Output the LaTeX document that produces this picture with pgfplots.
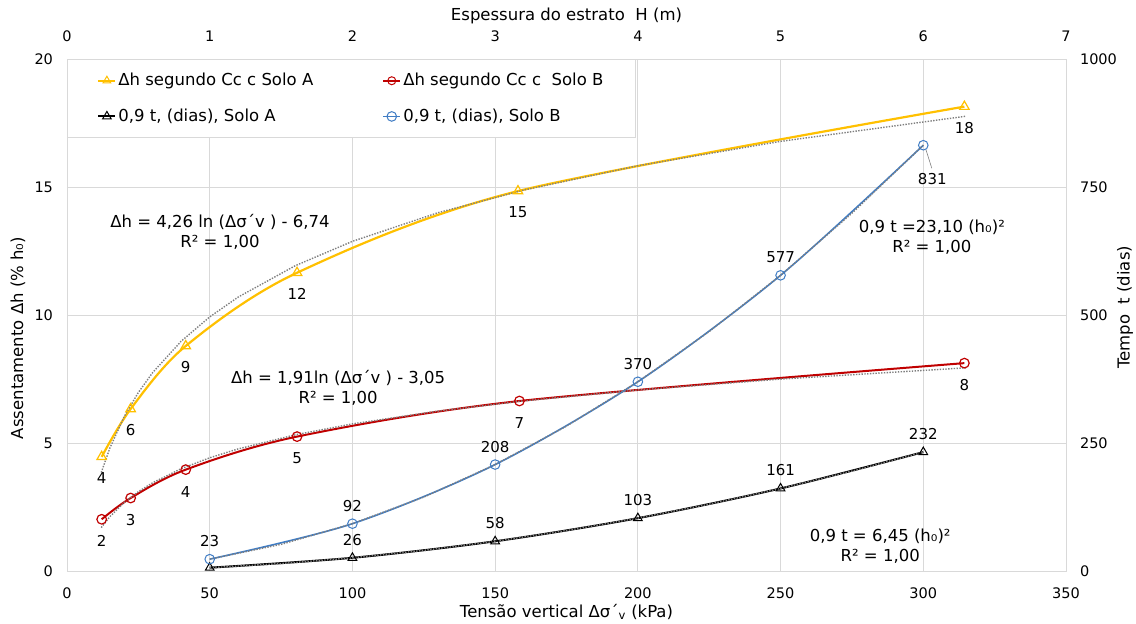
\documentclass[border=0pt]{standalone}
\usepackage{pgfplots}
\pgfplotsset{compat=1.18}
\usepackage{fontspec}
\setmainfont{DejaVu Sans}
\definecolor{cyel}{HTML}{FFC000}
\definecolor{cred}{HTML}{C00000}
\definecolor{cblue}{HTML}{3F7CC4}
\definecolor{cgrid}{HTML}{D9D9D9}
\definecolor{ctrend}{HTML}{7F7F7F}
\newcommand{\fs}{\fontsize{14.5bp}{17bp}\selectfont}
\newcommand{\fl}{\fontsize{15bp}{18bp}\selectfont}
\newcommand{\fb}{\fontsize{16.5bp}{20bp}\selectfont}
\newcommand{\fa}{\fontsize{16.5bp}{20bp}\selectfont}
\pgfplotsset{
  trend/.style={color=ctrend, line width=1.4bp, dash pattern=on 1.4bp off 1.4bp, forget plot, no marks},
  base/.style={scale only axis, width=999bp, height=512bp, at={(67bp,53bp)}, anchor=south west,
    axis line style={draw=cgrid, line width=0.8bp}, major tick length=0pt,
    /pgf/number format/assume math mode=true, /pgf/number format/1000 sep={},
    tick label style={font=\fs}, label style={font=\fb}, clip=false},
}
\begin{document}
\fs
\begin{tikzpicture}
\useasboundingbox (0,0) rectangle (1136bp,624bp);
% ---------------- primary axis ----------------
\begin{axis}[base,
  xmin=0, xmax=350, ymin=0, ymax=20,
  xtick={0,50,...,350}, ytick={0,5,10,15,20},
  grid=major, grid style={draw=cgrid, line width=0.8bp},
  xticklabel style={yshift=-12bp}, yticklabel style={xshift=-9bp},
  xlabel={Tensão vertical Δσ´\textsubscript{v} (kPa)},
  ylabel={Assentamento Δh (\% h₀)},
  xlabel style={at={(axis description cs:0.5,-0.080)}, anchor=center},
  ylabel style={at={(axis description cs:-0.049,0.455)}, anchor=center},
]
\addplot[cyel, line width=2.2bp, smooth, mark=triangle, mark size=5.5bp, mark options={solid, line width=1.2bp},
  nodes near coords, point meta=explicit symbolic,
  every node near coord/.append style={font=\fl, text=black, anchor=center, yshift=-21bp}]
  coordinates {(12.15,4.46)[4] (22.3,6.33)[6] (41.6,8.79)[9] (80.6,11.65)[12] (158,14.84)[15] (314.4,18.14)[18]};
\addplot[cred, line width=2bp, smooth, mark=o, mark size=4.8bp, mark options={solid, line width=1.2bp},
  nodes near coords, point meta=explicit symbolic,
  every node near coord/.append style={font=\fl, text=black, anchor=center, yshift=-22bp}]
  coordinates {(12.15,2.02)[2] (22.3,2.85)[3] (41.6,3.96)[4] (80.6,5.25)[5] (158.5,6.64)[7] (314.4,8.12)[8]};
\addplot[trend] coordinates {(12,3.846) (15,4.797) (20,6.022) (25,6.973) (30,7.749) (40,8.975) (50,9.925) (60,10.702) (80,11.927) (100,12.878) (130,13.996) (160,14.880) (200,15.831) (250,16.782) (315,17.766)};
\addplot[trend] coordinates {(12,1.696) (15,2.122) (20,2.672) (25,3.098) (30,3.446) (40,3.996) (50,4.422) (60,4.770) (80,5.320) (100,5.746) (130,6.247) (160,6.644) (200,7.070) (250,7.496) (315,7.937)};
\node[align=center, font=\fa] at (axis cs:53.6,13.24) {Δh = 4,26 ln (Δσ´v ) - 6,74\\R² = 1,00};
\node[align=center, font=\fa] at (axis cs:95,7.17) {Δh = 1,91ln (Δσ´v ) - 3,05\\R² = 1,00};
\node[align=center, font=\fa] at (axis cs:303,13.03) {0,9 t =23,10 (h₀)²\\R² = 1,00};
\node[align=center, font=\fa] at (axis cs:284.9,0.965) {0,9 t = 6,45 (h₀)²\\R² = 1,00};
\end{axis}
% ---------------- secondary axis ----------------
\begin{axis}[base,
  xmin=0, xmax=7, ymin=0, ymax=1000,
  axis x line*=top, axis y line*=right,
  xtick={0,1,...,7}, ytick={0,250,500,750,1000},
  xticklabel style={yshift=12bp}, yticklabel style={xshift=9bp},
  xlabel={Espessura do estrato~ H (m)},
  ylabel={Tempo~ t (dias)},
  xlabel style={at={(axis description cs:0.5,1.084)}, anchor=center},
  ylabel style={at={(axis description cs:1.059,0.515)}, anchor=center},
  legend columns=2,
  legend cell align=left,
  legend style={at={(0,1)}, anchor=north west, draw=cgrid, line width=0.8bp, fill=white, font=\fa,
    inner xsep=30bp, inner ysep=12bp, row sep=17bp,
    /tikz/every even column/.append style={column sep=67bp}},
]
\addlegendimage{cyel, line width=2bp, mark=triangle, mark size=4.5bp, mark options={solid, line width=1bp}}
\addlegendentry{Δh segundo Cc c Solo A}
\addlegendimage{cred, line width=2bp, mark=o, mark size=4bp, mark options={solid, line width=1bp}}
\addlegendentry{Δh segundo Cc c~ Solo B}
\addplot[black, line width=2bp, smooth, mark=triangle, mark size=5bp, mark options={solid, line width=1bp},
  nodes near coords, point meta=explicit symbolic,
  every node near coord/.append style={font=\fl, text=black, anchor=center, yshift=18bp}]
  coordinates {(1,6.45)[] (2,25.8)[26] (3,58.05)[58] (4,103.2)[103] (5,161.25)[161] (6,232.2)[232]};
\addlegendentry{0,9 t, (dias), Solo A}
\addplot[cblue, line width=1.6bp, smooth, mark=o, mark size=4.8bp, mark options={solid, line width=1bp},
  nodes near coords, point meta=explicit symbolic,
  every node near coord/.append style={font=\fl, text=black, anchor=center, yshift=18bp}]
  coordinates {(1,23.1)[23] (2,92.4)[92] (3,207.9)[208] (4,369.6)[370] (5,577.5)[577] (6,831.6)[]};
\addlegendentry{0,9 t, (dias), Solo B}
\addplot[trend] coordinates {(1,6.45) (1.5,14.51) (2,25.8) (2.5,40.31) (3,58.05) (3.5,79.01) (4,103.2) (4.5,130.61) (5,161.25) (5.5,195.11) (6,232.2)};
\addplot[trend] coordinates {(1,23.1) (1.5,51.98) (2,92.4) (2.5,144.38) (3,207.9) (3.5,282.98) (4,369.6) (4.5,467.78) (5,577.5) (5.5,698.78) (6,831.6)};
\draw[gray, line width=0.6bp] (axis cs:6,831.6) ++(2.5bp,-4bp) -- ++(6bp,-19bp);
\node[font=\fl] at (axis cs:6,831.6) [xshift=9bp, yshift=-34bp] {831};
\end{axis}
\end{tikzpicture}
\end{document}
